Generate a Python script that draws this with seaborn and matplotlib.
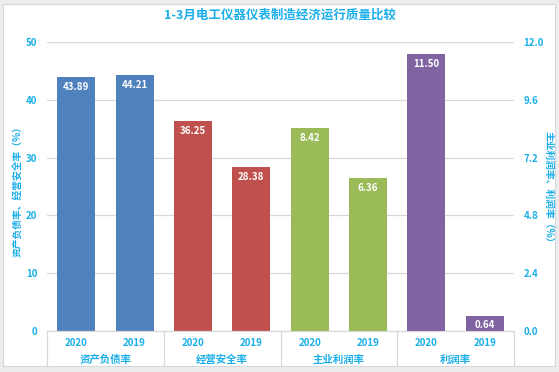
import matplotlib
matplotlib.use("Agg")
import matplotlib.pyplot as plt
import matplotlib.patches as mpatches
import seaborn as sns
import pandas as pd

categories = ["资产负债率", "经营安全率", "主业利润率", "利润率"]
years = ["2020", "2019"]
values = {
    "资产负债率": [43.89, 44.21],
    "经营安全率": [36.25, 28.38],
    "主业利润率": [8.42, 6.36],
    "利润率": [11.50, 0.64],
}
right_axis_cats = ["主业利润率", "利润率"]
colors = ["#4F81BD", "#C0504D", "#9BBB59", "#8064A2"]
left_ticks = [0, 10, 20, 30, 40, 50]
right_ticks = [0.0, 2.4, 4.8, 7.2, 9.6, 12.0]
title = "1-3月电工仪器仪表制造经济运行质量比较"
left_label = "资产负债率、经营安全率（%）"
right_label = "主业利润率、利润率（%）"

sns.set_theme(style="white")
plt.rcParams["font.family"] = ["Noto Sans CJK SC", "DejaVu Sans"]
plt.rcParams["axes.unicode_minus"] = False

rows = []
for c in categories:
    for y, v in zip(years, values[c]):
        rows.append({"slot": f"{c}|{y}", "cat": c, "year": y, "value": v,
                     "side": "right" if c in right_axis_cats else "left"})
df = pd.DataFrame(rows)
order = list(df["slot"])
pal = dict(zip(categories, colors))

txt = "#1AAEE8"
W, H = 559, 372
fig = plt.figure(figsize=(W / 100, H / 100), dpi=100)
fig.patch.set_facecolor("#ECEDEF")
fig.patches.append(mpatches.Rectangle((3 / W, 1 - 366 / H), 552 / W, 362 / H,
                                      transform=fig.transFigure, facecolor="white",
                                      edgecolor="#D8D8D8", linewidth=0.8, zorder=-10))

ax = fig.add_axes([47 / W, 1 - 331 / H, 467 / W, 289 / H])
ax.set_facecolor("none")
ax2 = ax.twinx()

left_df = df[df["side"] == "left"]
right_df = df[df["side"] == "right"]
sns.barplot(data=left_df, x="slot", y="value", hue="cat", palette=pal, order=order,
            dodge=False, width=0.65, legend=False, ax=ax, linewidth=0, saturation=1)
sns.barplot(data=right_df, x="slot", y="value", hue="cat", palette=pal, order=order,
            dodge=False, width=0.65, legend=False, ax=ax2, linewidth=0, saturation=1)

ax.set_ylim(0, 50)
ax2.set_ylim(0, 12)
ax.set_yticks(left_ticks)
ax2.set_yticks(right_ticks)
ax.set_yticklabels([str(t) for t in left_ticks], color=txt, fontsize=7, fontweight="bold")
ax2.set_yticklabels([f"{t:.1f}" for t in right_ticks], color=txt, fontsize=7, fontweight="bold")
ax.tick_params(axis="y", length=0, pad=7)
ax2.tick_params(axis="y", length=0, pad=7)
ax.set_xlim(-0.5, len(order) - 0.5)
ax.set_xticks([])
ax.set_xlabel("")
ax.set_ylabel("")
ax2.set_ylabel("")
ax2.set_xlabel("")
ax.yaxis.grid(True, color="#D9D9D9", linewidth=0.9)
ax.set_axisbelow(True)
for a in (ax, ax2):
    for s in a.spines.values():
        s.set_visible(False)

fig.text(18 / W, 1 - 189 / H, left_label, rotation=90, ha="center", va="center",
         color=txt, fontsize=7, fontweight="bold")
fig.text(549 / W, 1 - 189 / H, right_label, rotation=270, ha="center", va="center",
         color=txt, fontsize=7, fontweight="bold")

# value labels
for a in (ax, ax2):
    for cont in a.containers:
        for bar in cont:
            h = bar.get_height()
            if h != h or h == 0:
                continue
            a.annotate(f"{h:.2f}", (bar.get_x() + bar.get_width() / 2, h),
                       xytext=(0, -7), textcoords="offset points", ha="center",
                       va="center", color="white", fontsize=7, fontweight="bold")

# category axis table
tr = ax.get_xaxis_transform()
for i, (c, y) in enumerate(zip(df["cat"], df["year"])):
    ax.text(i, -0.043, y, transform=tr, ha="center", va="center", color=txt,
            fontsize=7, fontweight="bold")
for j, c in enumerate(categories):
    ax.text(2 * j + 0.5, -0.1, c, transform=tr, ha="center", va="center", color=txt,
            fontsize=7.5, fontweight="bold")
for j in range(len(categories) + 1):
    ax.plot([2 * j - 0.5, 2 * j - 0.5], [0, -0.121], transform=tr, color="#D9D9D9",
            linewidth=0.9, clip_on=False)
ax.plot([-0.5, len(order) - 0.5], [0, 0], transform=tr, color="#D9D9D9",
        linewidth=0.9, clip_on=False)

fig.text(0.5, 1 - 15 / H, title, ha="center", va="center", color=txt, fontsize=9,
         fontweight="bold")

fig.savefig("out.png", dpi=100, facecolor=fig.get_facecolor())
